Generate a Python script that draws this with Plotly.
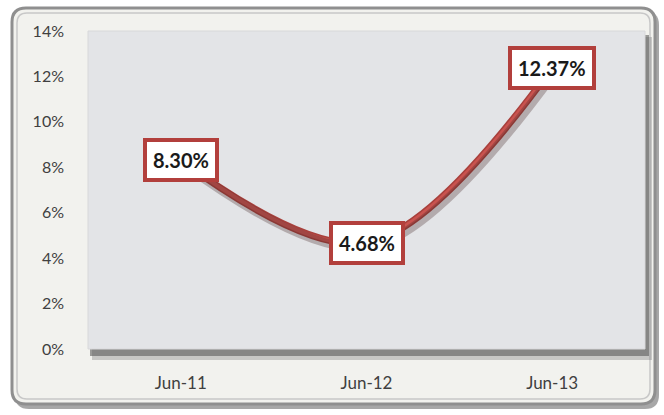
import plotly.graph_objects as go

categories = ["Jun-11", "Jun-12", "Jun-13"]
values = [8.30, 4.68, 12.37]
y_ticks = [0, 2, 4, 6, 8, 10, 12, 14]

W, H = 664, 415
ML, MR, MT, MB = 88, 19, 31, 66
PW, PH = W - ML - MR, H - MT - MB

def px(x):  # pixel -> paper x
    return (x - ML) / PW

def py(y):  # pixel -> paper y
    return (H - MB - y) / PH

def rounded(x0, y0, x1, y1, r):
    rx, ry = r / PW, r / PH
    X0, X1, Y0, Y1 = px(x0), px(x1), py(y1), py(y0)
    return (f"M {X0+rx},{Y0} L {X1-rx},{Y0} Q {X1},{Y0} {X1},{Y0+ry} "
            f"L {X1},{Y1-ry} Q {X1},{Y1} {X1-rx},{Y1} L {X0+rx},{Y1} "
            f"Q {X0},{Y1} {X0},{Y1-ry} L {X0},{Y0+ry} Q {X0},{Y0} {X0+rx},{Y0} Z")

shapes = [
    # frame shadow
    dict(type="path", xref="paper", yref="paper", path=rounded(15, 11, 659, 409, 14),
         fillcolor="rgba(60,60,60,0.45)", line=dict(width=0), layer="below"),
    # outer frame
    dict(type="path", xref="paper", yref="paper", path=rounded(12, 8, 655, 404, 14),
         fillcolor="#f2f2ee", line=dict(color="#8f8f8f", width=3), layer="below"),
    dict(type="path", xref="paper", yref="paper", path=rounded(17, 13, 650, 399, 10),
         fillcolor="rgba(0,0,0,0)", line=dict(color="#c8c8c8", width=1.5), layer="below"),
    # plot area shadow
    dict(type="rect", xref="paper", yref="paper", x0=px(ML + 4), x1=px(ML + PW + 7),
         y0=py(H - MB + 11), y1=py(MT + 6), fillcolor="rgba(120,120,120,0.35)",
         line=dict(width=0), layer="below"),
    dict(type="rect", xref="paper", yref="paper", x0=px(ML + 2), x1=px(ML + PW + 4),
         y0=py(H - MB + 7), y1=py(MT + 4), fillcolor="rgba(80,80,80,0.55)",
         line=dict(width=0), layer="below"),
    # plot area fill
    dict(type="rect", xref="paper", yref="paper", x0=0, x1=1, y0=0, y1=1,
         fillcolor="#e3e4e7", line=dict(color="#d8d8da", width=1), layer="below"),
]

shadow_dy = 4 * 14 / PH
shadow_dx = 3 * 3 / PW

fig = go.Figure()
fig.add_trace(go.Scatter(x=[i + shadow_dx for i in range(len(categories))], y=values,
                         mode="lines", line=dict(color="rgba(70,40,40,0.30)", width=9, shape="spline"),
                         xaxis="x2", yaxis="y2", hoverinfo="skip", showlegend=False))
fig.add_trace(go.Scatter(x=categories, y=values, mode="lines",
                         line=dict(color="#a8403c", width=7, shape="spline"),
                         hoverinfo="skip", showlegend=False))
fig.add_trace(go.Scatter(x=categories, y=values, mode="lines",
                         line=dict(color="#c9534f", width=4, shape="spline"),
                         showlegend=False))

annotations = [
    dict(x=c, y=v, xref="x", yref="y", text=f"<b>{v:.2f}%</b>", showarrow=False,
         font=dict(family="Lato, Carlito, sans-serif", size=20, color="#1a1a1a"),
         bgcolor="white", bordercolor="#b23f3c", borderwidth=4, borderpad=6)
    for c, v in zip(categories, values)
]

tick_font = "Lato, Carlito, sans-serif"

fig.update_layout(
    width=W, height=H,
    margin=dict(l=ML, r=MR, t=MT, b=MB),
    paper_bgcolor="white",
    plot_bgcolor="rgba(0,0,0,0)",
    showlegend=False,
    shapes=shapes,
    annotations=annotations,
    xaxis=dict(type="category", categoryorder="array", categoryarray=categories,
               range=[-0.5, 2.5], showgrid=False, zeroline=False, showline=False,
               ticks="", ticklabelstandoff=22,
               tickfont=dict(family=tick_font, size=17, color="#404040")),
    yaxis=dict(range=[0, 14], tickvals=y_ticks, ticktext=[f"{t}%" for t in y_ticks],
               showgrid=False, zeroline=False, showline=False, ticks="",
               ticklabelstandoff=23,
               tickfont=dict(family=tick_font, size=16, color="#404040")),
    xaxis2=dict(range=[-0.5, 2.5], overlaying="x", visible=False),
    yaxis2=dict(range=[0 + shadow_dy, 14 + shadow_dy], overlaying="y", visible=False),
)

fig.write_html("out.html", post_script="document.body.style.margin='0';",
               config={"displayModeBar": False})
